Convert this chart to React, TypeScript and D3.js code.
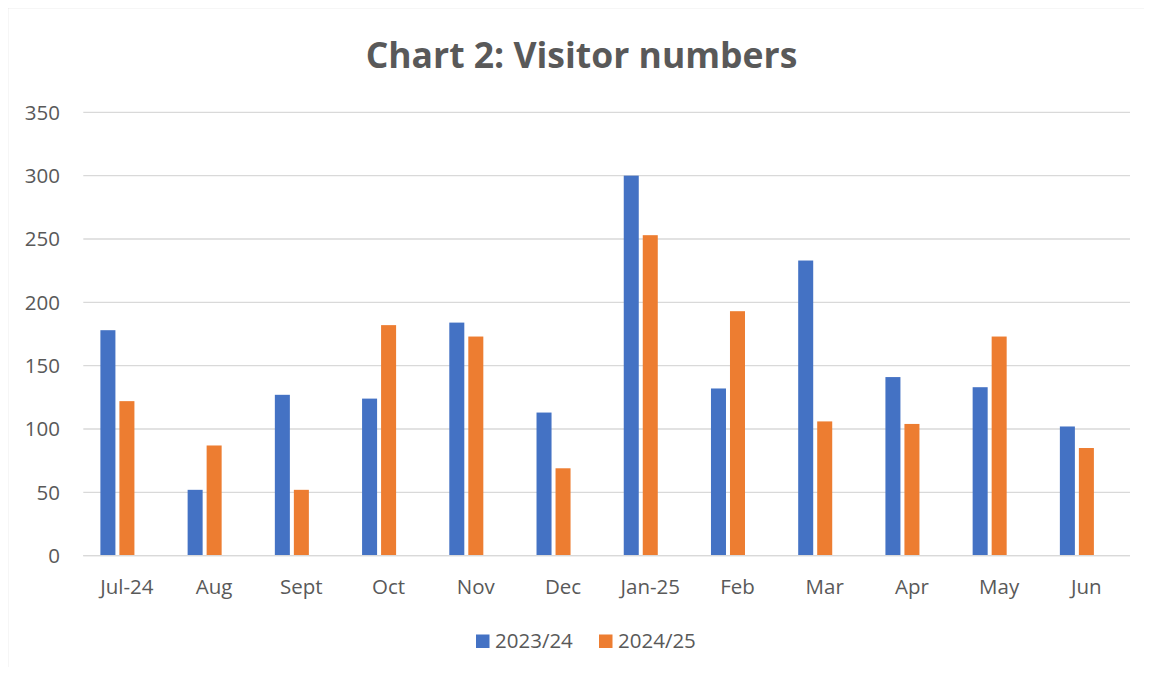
import React from "react";
import * as d3 from "d3";

const categories = ["Jul-24", "Aug", "Sept", "Oct", "Nov", "Dec", "Jan-25", "Feb", "Mar", "Apr", "May", "Jun"];
const series2023 = [178, 52, 127, 124, 184, 113, 300, 132, 233, 141, 133, 102];
const series2024 = [122, 87, 52, 182, 173, 69, 253, 193, 106, 104, 173, 85];
const seriesNames = ["2023/24", "2024/25"];
const yTicks = [0, 50, 100, 150, 200, 250, 300, 350];
const colors = ["#4472C4", "#ED7D31"];

const W = 1152;
const H = 675;
const FONT = "'Open Sans', Lato, sans-serif";
const LABEL_SIZE = 20.5;

export default function App() {
  const plotLeft = 83.3;
  const plotRight = 1130;
  const plotTop = 112.3;
  const plotBottom = 555.7;

  const x0 = d3
    .scaleBand<string>()
    .domain(categories)
    .range([plotLeft, plotRight])
    .paddingInner(0.392)
    .paddingOuter(0.196);
  // three slots per group (the third slot is an empty series in the source chart)
  const x1 = d3
    .scaleBand<string>()
    .domain([...seriesNames, "empty"])
    .range([0, x0.bandwidth()])
    .paddingInner(0.21)
    .paddingOuter(0);
  const y = d3.scaleLinear().domain([0, 350]).range([plotBottom, plotTop]);

  const data = [series2023, series2024];

  return (
    <div style={{ margin: -8 }}>
      <svg width={W} height={H} style={{ display: "block" }} fontFamily={FONT}>
        <rect x={0} y={0} width={W} height={H} fill="#ffffff" />
        <path d={`M7.5,${H + 2} V7.5 H${W + 2}`} fill="none" stroke="#d9d9d9" strokeWidth={1.5} />
        <text x={581.5} y={68} textAnchor="middle" fontSize={35.5} fontWeight={700} fill="#595959">
          Chart 2: Visitor numbers
        </text>
        {yTicks.map((t) => (
          <g key={t}>
            <line x1={plotLeft} x2={plotRight} y1={y(t)} y2={y(t)} stroke="#d9d9d9" strokeWidth={1.3} />
            <text x={60} y={y(t) + 7.3} textAnchor="end" fontSize={LABEL_SIZE} fill="#595959">
              {t}
            </text>
          </g>
        ))}
        {categories.map((c, i) => (
          <g key={c}>
            {data.map((s, k) => (
              <rect
                key={k}
                x={(x0(c) as number) + (x1(seriesNames[k]) as number)}
                y={y(s[i])}
                width={x1.bandwidth()}
                height={plotBottom - y(s[i])}
                fill={colors[k]}
              />
            ))}
            <text
              x={(x0(c) as number) + x0.bandwidth() / 2}
              y={594}
              textAnchor="middle"
              fontSize={LABEL_SIZE}
              fill="#595959"
            >
              {c}
            </text>
          </g>
        ))}
        <line x1={plotLeft} x2={plotRight} y1={plotBottom} y2={plotBottom} stroke="#d9d9d9" strokeWidth={1.3} />
        {seriesNames.map((n, k) => {
          const lx = [476, 599][k];
          return (
            <g key={n}>
              <rect x={lx} y={634.5} width={13.5} height={13.5} fill={colors[k]} />
              <text x={lx + 19} y={648.3} fontSize={LABEL_SIZE} fill="#595959">
                {n}
              </text>
            </g>
          );
        })}
      </svg>
    </div>
  );
}
